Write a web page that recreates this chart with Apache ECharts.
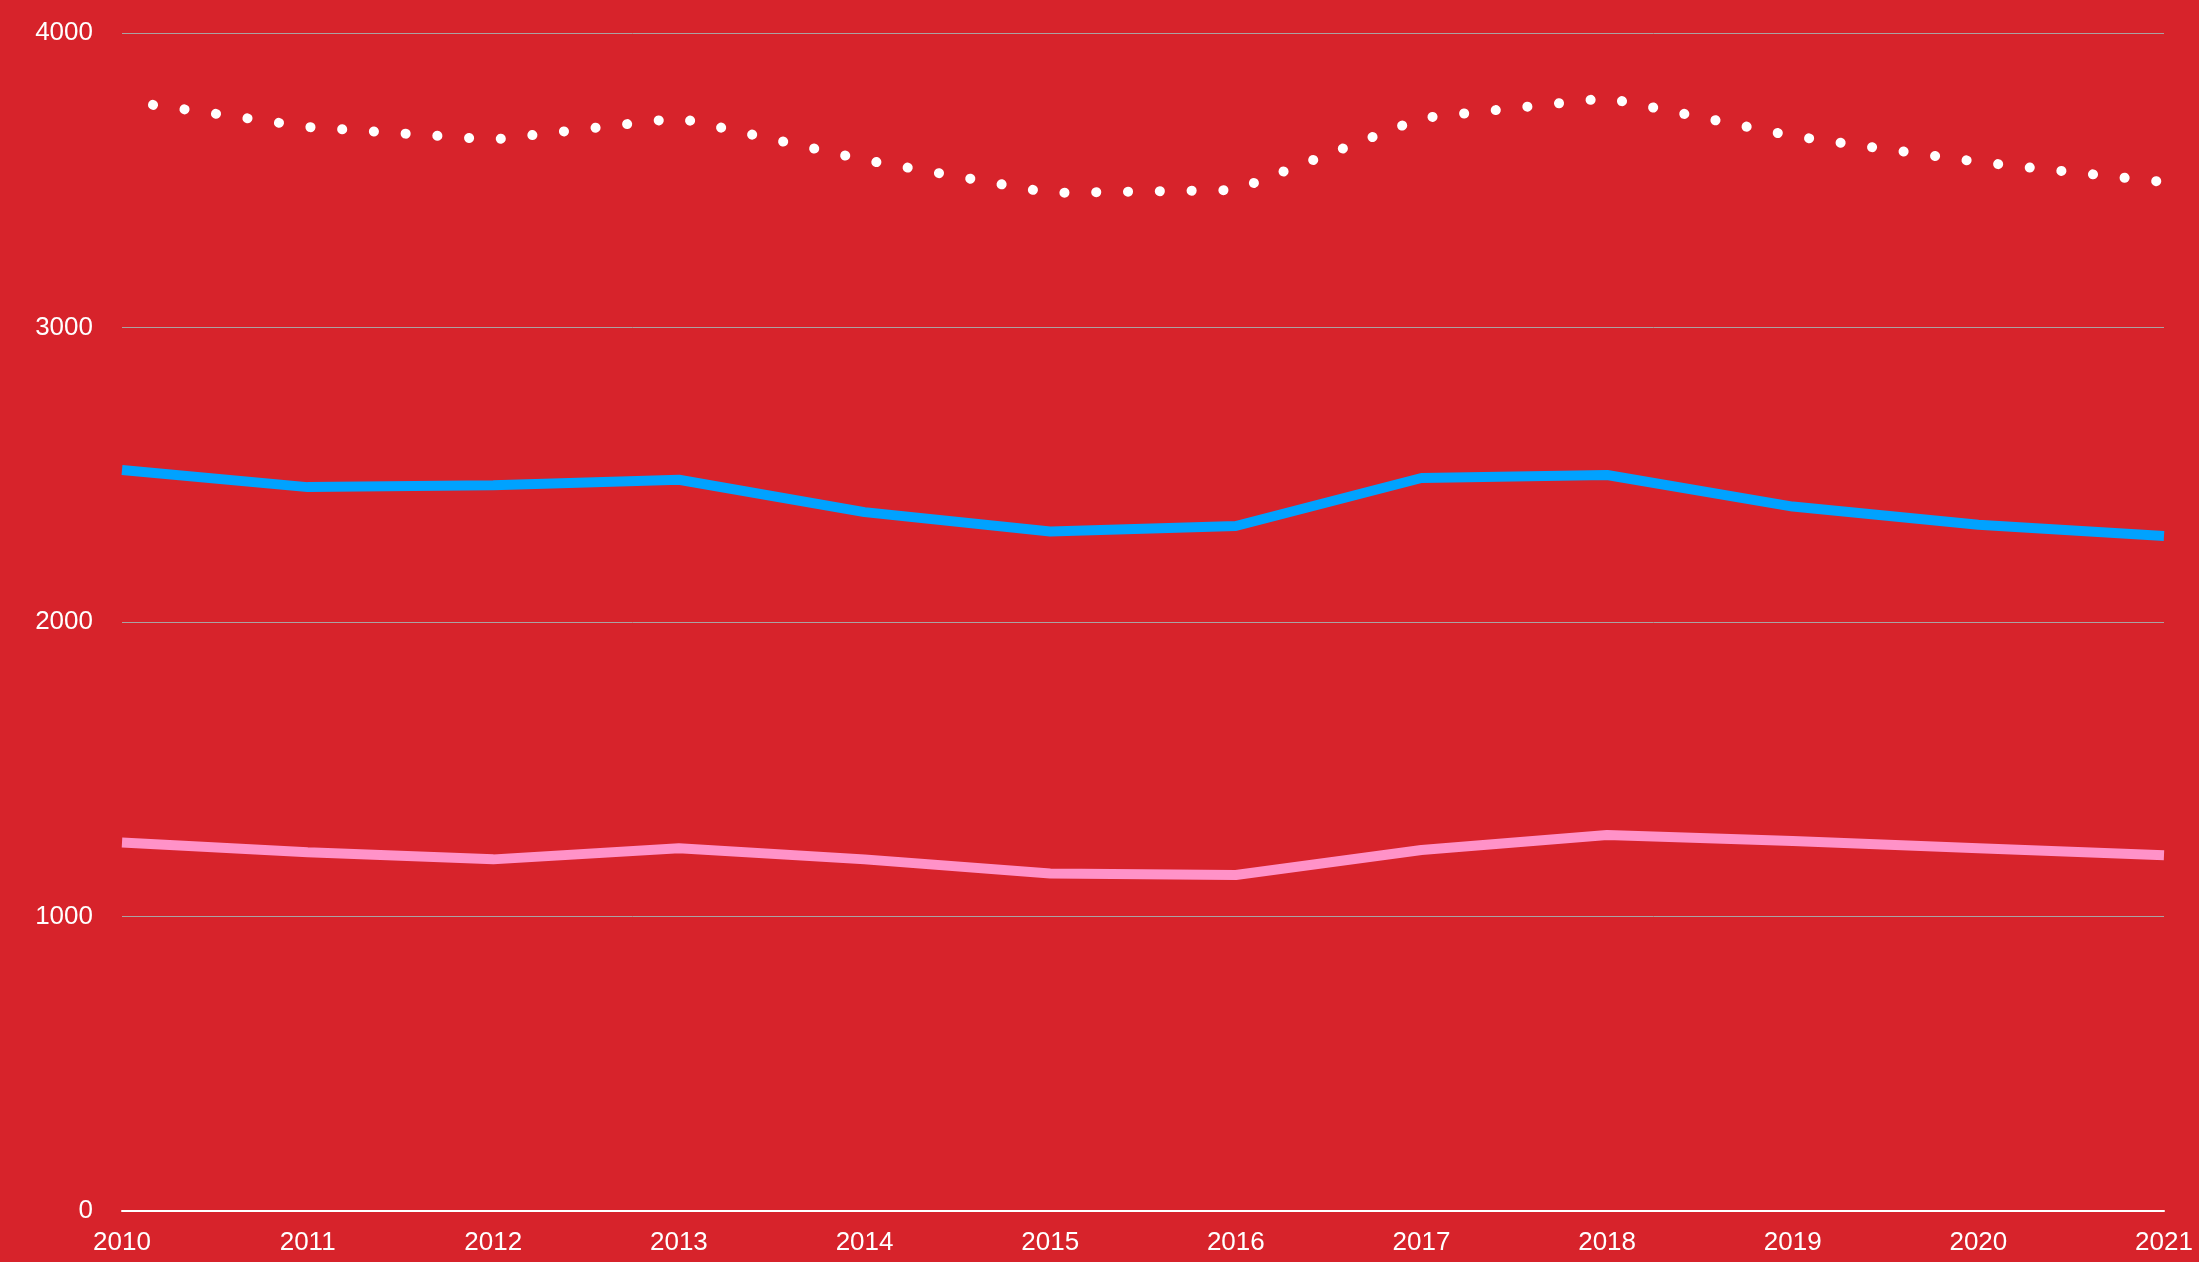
<!DOCTYPE html>
<html>
<head>
<meta charset="utf-8">
<script src="https://cdn.jsdelivr.net/npm/echarts@6/dist/echarts.min.js"></script>
<style>
    html, body {
        margin: 0;
        padding: 0;
        background: #d7232b;
    }
    #chart {
        width: 2199px;
        height: 1262px;
    }
</style>
</head>
<body>
<div id="chart"></div>
<script>
const years = ['2010', '2011', '2012', '2013', '2014', '2015', '2016', '2017', '2018', '2019', '2020', '2021'];

// white dotted series (top)
const dottedValues = [3771, 3681, 3638, 3711, 3569, 3457, 3467, 3711, 3779, 3650, 3562, 3494];
// blue series (middle)
const blueValues = [2516, 2458, 2464, 2483, 2373, 2307, 2326, 2489, 2499, 2392, 2330, 2292];
// pink series (bottom)
const pinkValues = [1251, 1218, 1194, 1232, 1194, 1146, 1141, 1226, 1277, 1256, 1232, 1208];

const yTicks = [0, 1000, 2000, 3000, 4000];

const fontFamily = '"Liberation Sans", Arial, Helvetica, sans-serif';

const makeLine = (name, data, lineStyle) => ({
    name,
    type: 'line',
    data,
    symbol: 'none',
    smooth: false,
    silent: true,
    lineStyle
});

const chart = echarts.init(document.getElementById('chart'));

chart.setOption({
    backgroundColor: '#d7232b',
    animation: false,
    grid: {
        left: 122,
        right: 35,
        top: 33,
        bottom: 51
    },
    xAxis: {
        type: 'category',
        data: years,
        boundaryGap: false,
        axisLine: {
            show: true,
            lineStyle: {color: '#ffffff', width: 2}
        },
        axisTick: {show: false},
        axisLabel: {
            color: '#ffffff',
            fontSize: 26,
            fontFamily,
            margin: 19
        },
        splitLine: {show: false}
    },
    yAxis: {
        type: 'value',
        min: yTicks[0],
        max: yTicks[yTicks.length - 1],
        interval: 1000,
        axisLine: {show: false},
        axisTick: {show: false},
        axisLabel: {
            color: '#ffffff',
            fontSize: 26,
            fontFamily,
            margin: 29,
            formatter: value => String(value)
        },
        splitLine: {
            show: true,
            lineStyle: {color: '#aaa2a2', width: 1}
        }
    },
    series: [
        makeLine('dotted', dottedValues, {
            color: '#ffffff',
            width: 10,
            type: [0.1, 31.7],
            dashOffset: 0.5,
            cap: 'round',
            join: 'round'
        }),
        makeLine('blue', blueValues, {
            color: '#00a2ff',
            width: 10
        }),
        makeLine('pink', pinkValues, {
            color: '#ff92c8',
            width: 10
        })
    ]
});
</script>
</body>
</html>
